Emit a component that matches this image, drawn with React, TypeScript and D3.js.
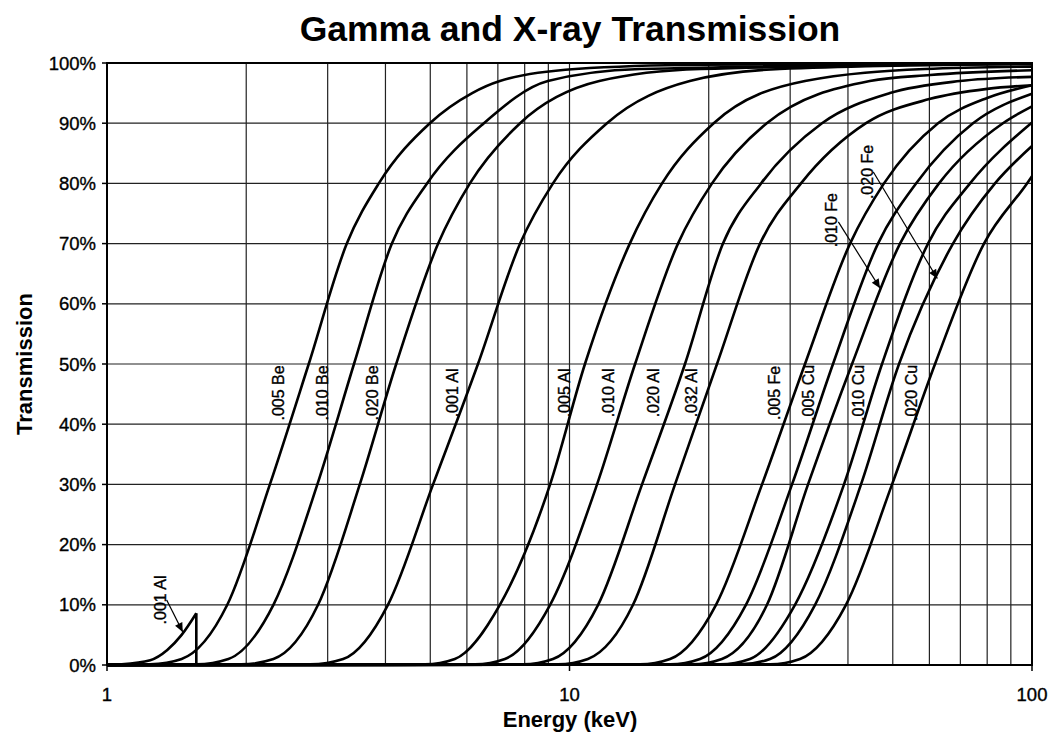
import React from "react";
import * as d3 from "d3";

type Pt = [number, number];

// Transmission curves: [energy keV, transmission %]
const be005: Pt[] = [[1, 0], [1.24, 0.1], [1.45, 1], [1.82, 10], [2.25, 30], [2.73, 50], [3.3, 70], [3.87, 80], [4.99, 90], [6.16, 95], [7.07, 97], [10.3, 99], [19.2, 99.7], [100, 99.9]];
const be010: Pt[] = [[1, 0], [1.56, 0.1], [1.83, 1], [2.29, 10], [2.85, 30], [3.42, 50], [4.13, 70], [4.92, 80], [6.53, 90], [8.98, 97], [14.2, 99], [100, 99.9]];
const be020: Pt[] = [[1, 0], [1.95, 0.1], [2.29, 1], [2.86, 10], [3.52, 30], [4.22, 50], [5.2, 70], [6.09, 80], [7.82, 90], [11.6, 97], [19.2, 99], [100, 99.8]];
const al001Pre: Pt[] = [[1, 0], [1.07, 0.1], [1.24, 0.8], [1.35, 2.5], [1.45, 5.0], [1.56, 8.6]];
const al001: Pt[] = [[1.56, 0], [2.75, 0.1], [3.24, 1], [4.05, 10], [5.07, 30], [6.34, 50], [7.82, 70], [9.21, 80], [12.05, 90], [18.2, 97], [28.5, 99], [100, 99.9]];
const al005: Pt[] = [[1, 0], [4.87, 0.1], [5.65, 1], [7.07, 10], [9.08, 30], [10.8, 50], [13.5, 70], [15.85, 80], [20.5, 90], [32.3, 97], [58.7, 99], [100, 99.4]];
const al010: Pt[] = [[1, 0], [6.25, 0.1], [7.25, 1], [9.08, 10], [11.47, 30], [13.86, 50], [17.16, 70], [20.33, 80], [26.7, 90], [44.6, 97], [60.2, 98], [100, 98.8]];
const al020: Pt[] = [[1, 0], [7.93, 0.1], [9.21, 1], [11.53, 10], [14.35, 30], [17.77, 50], [21.47, 70], [25.95, 80], [35.15, 90], [49.3, 95], [69.9, 97], [100, 97.7]];
const al032: Pt[] = [[1, 0], [9.44, 0.1], [10.96, 1], [13.72, 10], [16.91, 30], [20.84, 50], [25.82, 70], [31.66, 80], [43.76, 90], [60, 94], [80, 95.7], [100, 96.3]];
const fe005: Pt[] = [[1, 0], [14.2, 0.1], [16.5, 1], [20.74, 10], [26.08, 30], [32.3, 50], [40.42, 70], [47.86, 80], [62.64, 90], [80, 94.2], [100, 96.3]];
const cu005: Pt[] = [[1, 0], [16.5, 0.1], [19.15, 1], [24.07, 10], [30.28, 30], [37.13, 50], [46.45, 70], [56.14, 80], [74.56, 90], [100, 94.9]];
const fe010: Pt[] = [[1, 0], [18.41, 0.1], [21.36, 1], [26.73, 10], [32.79, 30], [40.82, 50], [51.84, 70], [62.94, 80], [86.54, 90], [100, 92.8]];
const cu010: Pt[] = [[1, 0], [21.15, 0.1], [24.56, 1], [30.73, 10], [39.22, 30], [47.39, 50], [59.59, 70], [73.45, 80], [100, 90.1]];
const fe020: Pt[] = [[1, 0], [23.37, 0.1], [27.14, 1], [33.96, 10], [42.69, 30], [51.58, 50], [67.48, 70], [83.18, 80], [100, 86.2]];
const cu020: Pt[] = [[1, 0], [27.14, 0.1], [31.51, 1], [39.61, 10], [49.82, 30], [61.71, 50], [78.74, 70], [97.55, 80], [100, 81.2]];

const curves: Pt[][] = [be005, be010, be020, al001Pre, al001, al005, al010, al020, al032, fe005, cu005, fe010, cu010, fe020, cu020];

// K-edge drop of the thin aluminium foil
const al001Edge: Pt[] = [[1.56, 8.6], [1.56, 0]];

// Curve labels: text, [energy, transmission] of label centre
const labelTexts = [".005 Be", ".010 Be", ".020 Be", ".001 Al", ".005 Al", ".010 Al", ".020 Al", ".032 Al", ".005 Fe", ".005 Cu", ".010 Cu", ".020 Cu", ".010 Fe", ".020 Fe", ".001 Al"];
const labelPos: Pt[] = [[2.343, 45.2], [2.917, 45.2], [3.741, 45.2], [5.571, 45.2], [9.73, 45.2], [12.11, 45.2], [15.15, 45.2], [18.31, 45.2], [27.68, 45.2], [32.79, 45.2], [42.05, 45.2], [54.75, 45.2], [36.77, 73.9], [43.98, 81.9], [1.302, 10.8]];

// Arrows: [from, to]
const arrows: [Pt, Pt][] = [
  [[1.346, 10.8], [1.458, 5.5]],
  [[38.13, 73.6], [46.93, 62.6]],
  [[45.39, 81.9], [62.41, 64.2]],
];

const xTickLabels = [1, 10, 100];
const yTickValues = [0, 10, 20, 30, 40, 50, 60, 70, 80, 90, 100];

const W = 1052, H = 734;
const L = 107, R = 1032, T = 63, B = 665;
const FONT = "'Liberation Sans', Arial, sans-serif";

export default function App() {
  const x = d3.scaleLog().domain([1, 100]).range([L, R]);
  const y = d3.scaleLinear().domain([0, 100]).range([B, T]);
  const line = d3.line<Pt>().x(d => x(d[0])).y(d => y(d[1])).curve(d3.curveMonotoneX);
  const straight = d3.line<Pt>().x(d => x(d[0])).y(d => y(d[1]));
  const gridX = x.ticks().filter(v => v > 1 && v < 100);

  return (
    <svg width={W} height={H} style={{ position: "absolute", left: 0, top: 0, background: "#fff" }} fontFamily={FONT}>
      <defs>
        <marker id="ah" viewBox="0 0 10 10" refX="10" refY="5" markerWidth="15" markerHeight="9" markerUnits="userSpaceOnUse" orient="auto">
          <path d="M0,0.5 L10,5 L0,9.5 Z" fill="#000" />
        </marker>
      </defs>
      <rect x={0} y={0} width={W} height={H} fill="#fff" />
      <text x={570} y={41} textAnchor="middle" fontSize={35.5} fontWeight="bold">Gamma and X-ray Transmission</text>
      {/* grid */}
      {gridX.map(v => (
        <line key={"gx" + v} x1={x(v)} x2={x(v)} y1={T} y2={B} stroke="#222" strokeWidth={1.2} />
      ))}
      {yTickValues.map(v => (
        <line key={"gy" + v} x1={L} x2={R} y1={y(v)} y2={y(v)} stroke="#222" strokeWidth={1.2} />
      ))}
      {/* frame */}
      <rect x={L} y={T} width={R - L} height={B - T} fill="none" stroke="#000" strokeWidth={2} />
      {/* ticks */}
      {yTickValues.map(v => (
        <line key={"ty" + v} x1={L - 5} x2={L} y1={y(v)} y2={y(v)} stroke="#000" strokeWidth={1.5} />
      ))}
      {xTickLabels.map(v => (
        <line key={"tx" + v} x1={x(v)} x2={x(v)} y1={B} y2={B + 6} stroke="#000" strokeWidth={1.5} />
      ))}
      {yTickValues.map(v => (
        <text key={"ly" + v} x={L - 11} y={y(v) + 6.5} textAnchor="end" fontSize={18.5} stroke="#000" strokeWidth={0.35}>{v + "%"}</text>
      ))}
      {xTickLabels.map(v => (
        <text key={"lx" + v} x={x(v)} y={701} textAnchor="middle" fontSize={18.5} stroke="#000" strokeWidth={0.35}>{v}</text>
      ))}
      <text x={570} y={727} textAnchor="middle" fontSize={22} fontWeight="bold">Energy (keV)</text>
      <text transform={`translate(32,${(T + B) / 2}) rotate(-90)`} textAnchor="middle" fontSize={22} fontWeight="bold">Transmission</text>
      {/* curves */}
      {curves.map((c, i) => (
        <path key={"c" + i} d={line(c) || ""} fill="none" stroke="#000" strokeWidth={2.6} strokeLinejoin="round" />
      ))}
      <path d={straight(al001Edge) || ""} fill="none" stroke="#000" strokeWidth={2.6} />
      {/* labels */}
      {labelTexts.map((t, i) => (
        <text key={"lab" + i} transform={`translate(${x(labelPos[i][0]) + 6},${y(labelPos[i][1])}) rotate(-90)`} textAnchor="middle" fontSize={16} stroke="#000" strokeWidth={0.35}>{t}</text>
      ))}
      {arrows.map((a, i) => (
        <line key={"ar" + i} x1={x(a[0][0])} y1={y(a[0][1])} x2={x(a[1][0])} y2={y(a[1][1])} stroke="#000" strokeWidth={1.2} markerEnd="url(#ah)" />
      ))}
    </svg>
  );
}
